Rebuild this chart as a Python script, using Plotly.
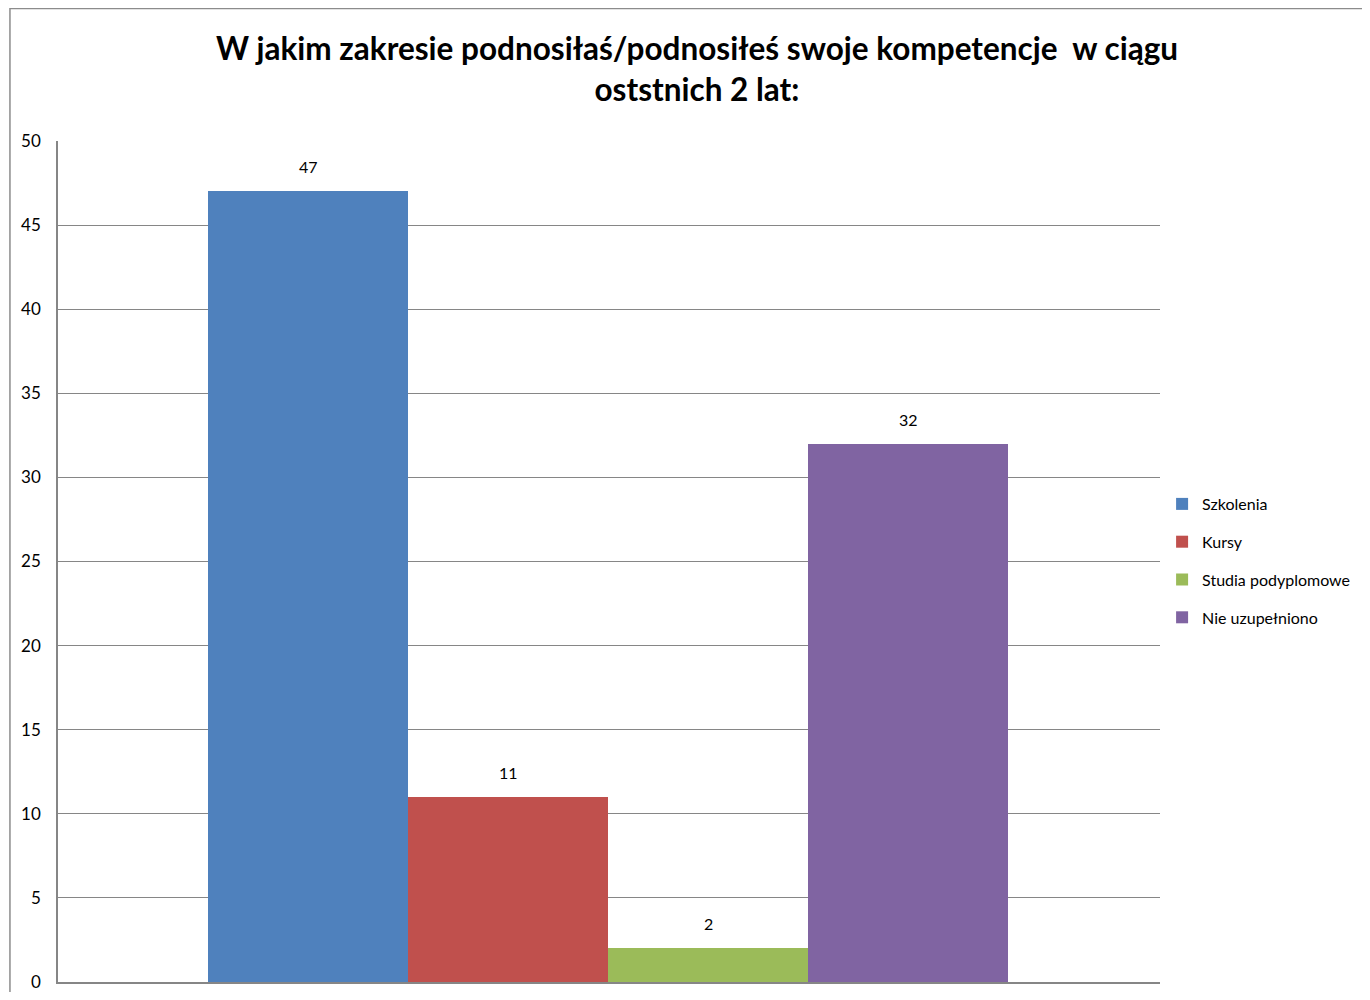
import plotly.graph_objects as go

# data
series = ["Szkolenia", "Kursy", "Studia podyplomowe", "Nie uzupełniono"]
values = [47, 11, 2, 32]
colors = ["#4F81BD", "#C0504D", "#9BBB59", "#8064A2"]
y_ticks = [0, 5, 10, 15, 20, 25, 30, 35, 40, 45, 50]

title = ("W jakim zakresie podnosiłaś/podnosiłeś swoje kompetencje  w ciągu"
         "<br>oststnich 2 lat:")

font_main = "Lato, Open Sans, sans-serif"

# page body has an 8px margin all round, keep the figure inside the window
W, H = 1354, 984

fig = go.Figure()

for i in range(len(series)):
    fig.add_trace(go.Bar(
        x=[series[i]],
        y=[values[i]],
        name=series[i],
        legendgroup=series[i],
        marker=dict(color=colors[i], line=dict(width=0)),
        hoverinfo="name+y",
    ))
    # value label above each bar
    fig.add_annotation(
        x=series[i], y=values[i], text=str(values[i]),
        showarrow=False, yanchor="bottom", yshift=13,
        font=dict(family=font_main, size=16, color="#000000"),
    )

# chart-area frame like the spreadsheet export
fig.add_shape(type="rect", xref="paper", yref="paper",
              x0=-0.0436, x1=1.3, y0=-0.1, y1=1.1575,
              line=dict(color="#8c8c8c", width=1.5), fillcolor="rgba(0,0,0,0)",
              layer="below")

fig.update_layout(
    width=W, height=H,
    margin=dict(l=50, r=202, t=133, b=10, autoexpand=False),
    paper_bgcolor="white",
    plot_bgcolor="white",
    barmode="overlay",
    bargap=0,
    title=dict(text=title, x=689 / W, xanchor="center",
               y=1 - 52 / H, yanchor="top",
               font=dict(family=font_main, size=31.5, color="#000000",
                         weight="bold")),
    font=dict(family=font_main, color="#000000"),
    xaxis=dict(
        range=[-1.25, 4.26],
        showticklabels=False,
        showgrid=False,
        showline=True, linecolor="#868686", linewidth=1.5,
        zeroline=False,
    ),
    yaxis=dict(
        range=[0, 50],
        tickvals=y_ticks,
        showgrid=True, gridcolor="#868686", gridwidth=1,
        showline=True, linecolor="#868686", linewidth=1.5,
        zeroline=False,
        ticks="", ticklabelstandoff=12,
        tickfont=dict(family=font_main, size=17, color="#000000"),
    ),
    legend=dict(
        x=1.0019, xanchor="left", y=0.5006, yanchor="middle",
        tracegroupgap=14,
        font=dict(family=font_main, size=16, color="#000000"),
        bgcolor="rgba(0,0,0,0)",
    ),
    showlegend=True,
)

fig.write_html("out.html")
